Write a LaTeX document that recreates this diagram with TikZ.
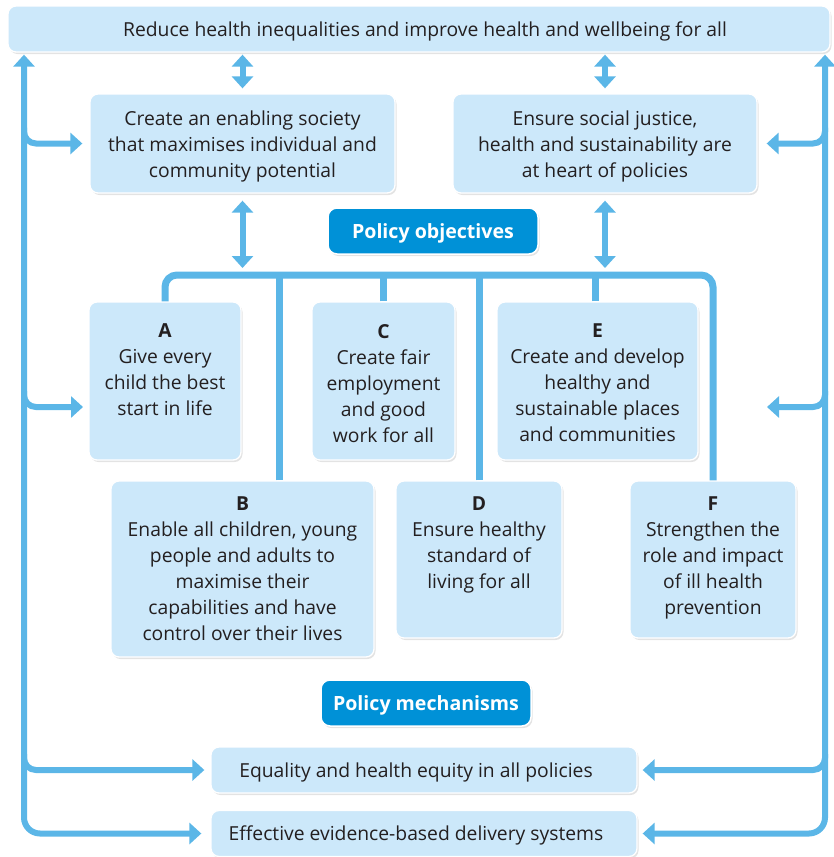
\documentclass[tikz,border=0pt]{standalone}
\usepackage{fontspec}
\setmainfont{Open Sans}
\usetikzlibrary{arrows.meta,calc,shadows}
\definecolor{boxfill}{RGB}{204,232,250}
\definecolor{railc}{RGB}{91,182,231}
\definecolor{btnblue}{RGB}{0,145,215}
\definecolor{txtc}{RGB}{35,31,32}
\tikzset{
  boxnode/.style={draw=white, line width=1.3pt, fill=boxfill, rounded corners=8pt,
    drop shadow={opacity=0.22, shadow xshift=1.5pt, shadow yshift=-2pt},
    align=center, text=txtc, inner sep=0pt},
  btn/.style={draw=white, line width=1.5pt, fill=btnblue, rounded corners=9pt,
    drop shadow={opacity=0.22, shadow xshift=1.5pt, shadow yshift=-2pt},
    inner sep=0pt},
  btntxt/.style={text=white, font=\fontsize{19.6}{26}\selectfont\bfseries, inner sep=0pt},
  txt/.style={align=center, text=txtc, inner sep=0pt, anchor=north},
  rail/.style={draw=railc, line width=6pt},
  busline/.style={draw=railc, line width=7pt},
  tri/.tip={Triangle[width=21pt,length=12pt]}
}
\begin{document}
\begin{tikzpicture}[x=1pt,y=-1pt, font=\fontsize{19.3}{26}\selectfont]
\useasboundingbox (0,0) rectangle (833,857);
% boxes
\node[boxnode, minimum width=822, minimum height=46] (top) at (419,29) {};
\node[boxnode, minimum width=305, minimum height=99] (b1) at (242.5,143.5) {};
\node[boxnode, minimum width=304, minimum height=99] (b2) at (605,143.5) {};
\node[btn, minimum width=210, minimum height=46] (obj) at (433,231) {};
\node[boxnode, minimum width=152, minimum height=158] (A) at (165,381) {};
\node[boxnode, minimum width=143, minimum height=158] (C) at (383.5,381) {};
\node[boxnode, minimum width=201, minimum height=158] (E) at (597.5,381) {};
\node[boxnode, minimum width=263, minimum height=176] (B) at (242.5,569) {};
\node[boxnode, minimum width=166, minimum height=157] (D) at (479,559.5) {};
\node[boxnode, minimum width=166, minimum height=157] (F) at (713,559.5) {};
\node[btn, minimum width=210, minimum height=46] (mech) at (426,703) {};
\node[boxnode, minimum width=426, minimum height=46] (eq) at (424,770) {};
\node[boxnode, minimum width=426, minimum height=46] (eff) at (424,833.5) {};
% texts
\node[txt, anchor=center] (ttop) at (425,31.5)
  {Reduce health inequalities and improve health and wellbeing for all};
\node[txt, anchor=center] (tb1) at ($(b1.center)+(0,2.5)$)
  {Create an enabling society\\that maximises individual and\\community potential};
\node[txt, anchor=center] (tb2) at ($(b2.center)+(0,2.5)$)
  {Ensure social justice,\\health and sustainability are\\at heart of policies};
\node[btntxt] (tobj) at ($(obj.center)+(0,2)$) {Policy objectives};
\node[btntxt] (tmech) at ($(mech.center)+(0,2)$) {Policy mechanisms};
\node[txt] (tA) at ($(A.north)+(0,22.5)$) {\textbf{A}\\Give every\\child the best\\start in life};
\node[txt] (tC) at ($(C.north)+(0,22.5)$) {\textbf{C}\\Create fair\\employment\\and good\\work for all};
\node[txt] (tE) at ($(E.north)+(0,22.5)$) {\textbf{E}\\Create and develop\\healthy and\\sustainable places\\and communities};
\node[txt] (tB) at ($(B.north)+(0,16.5)$) {\textbf{B}\\Enable all children, young\\people and adults to\\maximise their\\capabilities and have\\control over their lives};
\node[txt] (tD) at ($(D.north)+(0,16.5)$) {\textbf{D}\\Ensure healthy\\standard of\\living for all};
\node[txt] (tF) at ($(F.north)+(0,16.5)$) {\textbf{F}\\Strengthen the\\role and impact\\of ill health\\prevention};
\node[txt, anchor=center] (teq) at (416,772) {Equality and health equity in all policies};
\node[txt, anchor=center] (teff) at (416,835.5) {Effective evidence-based delivery systems};
% rail coordinates
\coordinate (Lx) at (24,0);
\coordinate (Rx) at (825,0);
\coordinate (busy) at (0,275);
\coordinate (Etip) at (767,407);
\coordinate (Atip) at (83,407);
\coordinate (Bdrop) at ($(B.north west)+(169,0)$);
\coordinate (Edrop) at ($(E.north)+(-2.5,0)$);
% left rail
\draw[rail, {tri}-{tri}, rounded corners=16pt] ($(eff.west)+(-9,0)$) -| ($(top.south -| Lx)+(0,2)$);
\draw[rail, -{tri}, rounded corners=12pt] ($(Lx |- b1.west)+(0,-16)$) |- ($(b1.west)+(-7,0)$);
\draw[rail, -{tri}, rounded corners=12pt] ($(Lx |- Atip)+(0,-16)$) |- (Atip);
\draw[rail, -{tri}, rounded corners=12pt] ($(Lx |- eq.west)+(0,-16)$) |- ($(eq.west)+(-6,0)$);
% right rail
\draw[rail, {tri}-{tri}, rounded corners=16pt] ($(eff.east)+(5,0)$) -| ($(top.south -| Rx)+(0,2)$);
\draw[rail, -{tri}, rounded corners=12pt] ($(Rx |- b2.east)+(0,-16)$) |- ($(b2.east)+(9,0)$);
\draw[rail, -{tri}, rounded corners=12pt] ($(Rx |- Etip)+(0,-16)$) |- (Etip);
\draw[rail, -{tri}, rounded corners=12pt] ($(Rx |- eq.east)+(0,-16)$) |- ($(eq.east)+(5,0)$);
% double arrows
\draw[rail, {tri}-{tri}] ($(top.south -| b1.north)+(0,2)$) -- ($(b1.north)+(0,-5)$);
\draw[rail, {tri}-{tri}] ($(top.south -| b2.north)+(0,2)$) -- ($(b2.north)+(0,-5)$);
\draw[rail, {tri}-{tri}] ($(b1.south)+(0,7)$) -- ($(b1.south |- busy)+(0,-7)$);
\draw[rail, {tri}-{tri}] ($(b2.south)+(0,7)$) -- ($(b2.south |- busy)+(0,-7)$);
% bus
\draw[busline, rounded corners=12pt] (A.north) |- (F.north |- busy) -- (F.north);
\draw[busline] (Bdrop) -- (Bdrop |- busy);
\draw[busline] (C.north) -- (C.north |- busy);
\draw[busline] (D.north) -- (D.north |- busy);
\draw[busline] (Edrop) -- (Edrop |- busy);
\end{tikzpicture}
\end{document}
